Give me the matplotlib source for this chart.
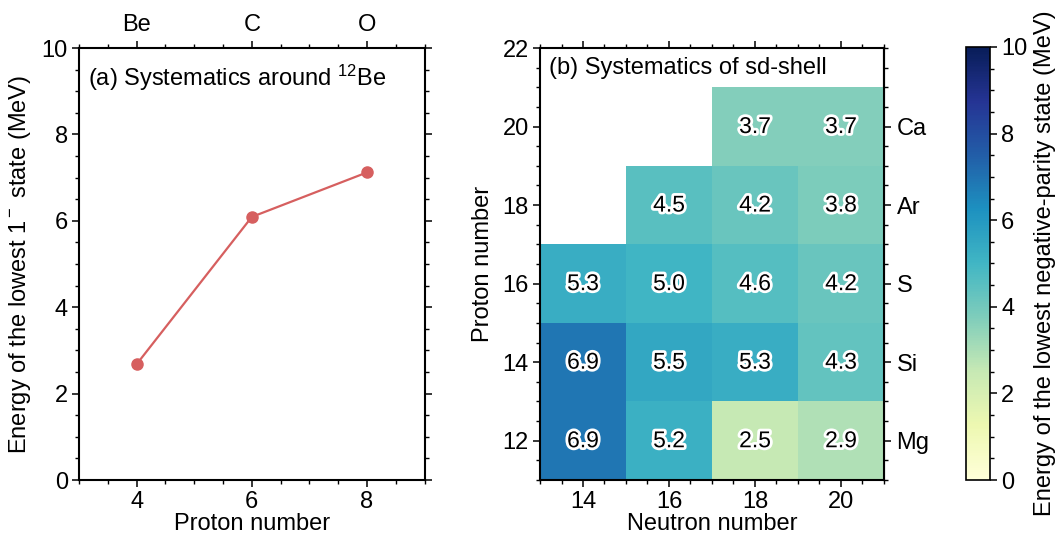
import numpy as np
import matplotlib
matplotlib.use("Agg")
import matplotlib.pyplot as plt
import matplotlib.patheffects as pe
from matplotlib.ticker import MultipleLocator

plt.rcParams['font.family'] = ['Liberation Sans', 'DejaVu Sans']
plt.rcParams['font.size'] = 17
plt.rcParams['mathtext.fontset'] = 'custom'
plt.rcParams['mathtext.rm'] = 'Liberation Sans'
plt.rcParams['mathtext.it'] = 'Liberation Sans:italic'

# Panel (a)
proton_a = [4, 6, 8]
elements_a = ['Be', 'C', 'O']
energy_a = [2.68, 6.09, 7.12]

# Panel (b)
neutrons = [14, 16, 18, 20]
protons = [12, 14, 16, 18, 20]
elements_b = ['Mg', 'Si', 'S', 'Ar', 'Ca']
energy_b = [
    [6.9, 5.2, 2.5, 2.9],        # Mg
    [6.9, 5.5, 5.3, 4.3],        # Si
    [5.3, 5.0, 4.6, 4.2],        # S
    [np.nan, 4.5, 4.2, 3.8],     # Ar
    [np.nan, np.nan, 3.7, 3.7],  # Ca
]

fig = plt.figure(figsize=(10.58, 5.43), dpi=100)
ax1 = fig.add_axes([0.0747, 0.116, 0.3266, 0.7956])
ax2 = fig.add_axes([0.5104, 0.116, 0.3251, 0.7956])
cax = fig.add_axes([0.913, 0.116, 0.0227, 0.7975])

def style(ax):
    for s in ax.spines.values():
        s.set_linewidth(1.5)
    ax.tick_params(which='major', direction='out', length=5, width=1.1, pad=3)
    ax.tick_params(which='minor', direction='out', length=3, width=1.0)

# ---- Panel (a)
ax1.plot(proton_a, energy_a, '-o', color='#d65f5f', lw=1.6, markersize=8)
ax1.set_xlim(3, 9)
ax1.set_ylim(0, 10)
ax1.xaxis.set_major_locator(MultipleLocator(2))
ax1.xaxis.set_minor_locator(MultipleLocator(0.5))
ax1.yaxis.set_major_locator(MultipleLocator(2))
ax1.yaxis.set_minor_locator(MultipleLocator(0.5))
ax1.set_xticks([4, 6, 8])
style(ax1)
ax1.tick_params(which='both', top=True, right=True)
ax1.set_xlabel('Proton number', labelpad=0)
ax1.set_ylabel('Energy of the lowest 1$^-$ state (MeV)', labelpad=6)
ax1.text(0.025, 0.965, '(a) Systematics around $^{12}$Be', transform=ax1.transAxes,
         ha='left', va='top')
top1 = ax1.secondary_xaxis('top')
top1.set_xticks(proton_a)
top1.set_xticklabels(elements_a)
top1.tick_params(length=0, pad=9)
top1.spines['top'].set_visible(False)

# ---- Panel (b)
Z = np.ma.masked_invalid(np.array(energy_b))
xedges = np.array(neutrons + [neutrons[-1] + 2]) - 1
yedges = np.array(protons + [protons[-1] + 2]) - 1
mesh = ax2.pcolormesh(xedges, yedges, Z, cmap='YlGnBu', vmin=0, vmax=10)
for i, zp in enumerate(protons):
    for j, n in enumerate(neutrons):
        v = energy_b[i][j]
        if not np.isnan(v):
            ax2.text(n, zp, f'{v:.1f}', ha='center', va='center', fontsize=16.5,
                     color='black',
                     path_effects=[pe.withStroke(linewidth=4, foreground='white')])
ax2.set_xlim(13, 21)
ax2.set_ylim(11, 22)
ax2.xaxis.set_major_locator(MultipleLocator(2))
ax2.xaxis.set_minor_locator(MultipleLocator(0.5))
ax2.yaxis.set_major_locator(MultipleLocator(2))
ax2.yaxis.set_minor_locator(MultipleLocator(0.5))
ax2.set_xticks(neutrons)
style(ax2)
ax2.tick_params(which='both', top=True)
ax2.set_xlabel('Neutron number', labelpad=0)
ax2.set_ylabel('Proton number', labelpad=6)
ax2.text(0.025, 0.98, '(b) Systematics of sd-shell', transform=ax2.transAxes,
         ha='left', va='top')
r2 = ax2.secondary_yaxis('right')
r2.set_yticks(protons)
r2.set_yticklabels(elements_b)
r2.yaxis.set_minor_locator(MultipleLocator(0.5))
r2.tick_params(which='major', direction='out', length=5, width=1.1, pad=4)
r2.tick_params(which='minor', direction='out', length=3, width=1.0)
r2.spines['right'].set_linewidth(1.5)

# ---- Colorbar
cb = fig.colorbar(mesh, cax=cax)
cb.set_ticks([0, 2, 4, 6, 8, 10])
cb.ax.yaxis.set_minor_locator(MultipleLocator(0.5))
cb.ax.tick_params(which='major', direction='out', length=5, width=1.1, pad=3)
cb.ax.tick_params(which='minor', direction='out', length=3, width=1.0)
cb.outline.set_linewidth(1.2)
cb.set_label('Energy of the lowest negative-parity state (MeV)', labelpad=5)

fig.savefig('out.png', dpi=100)
